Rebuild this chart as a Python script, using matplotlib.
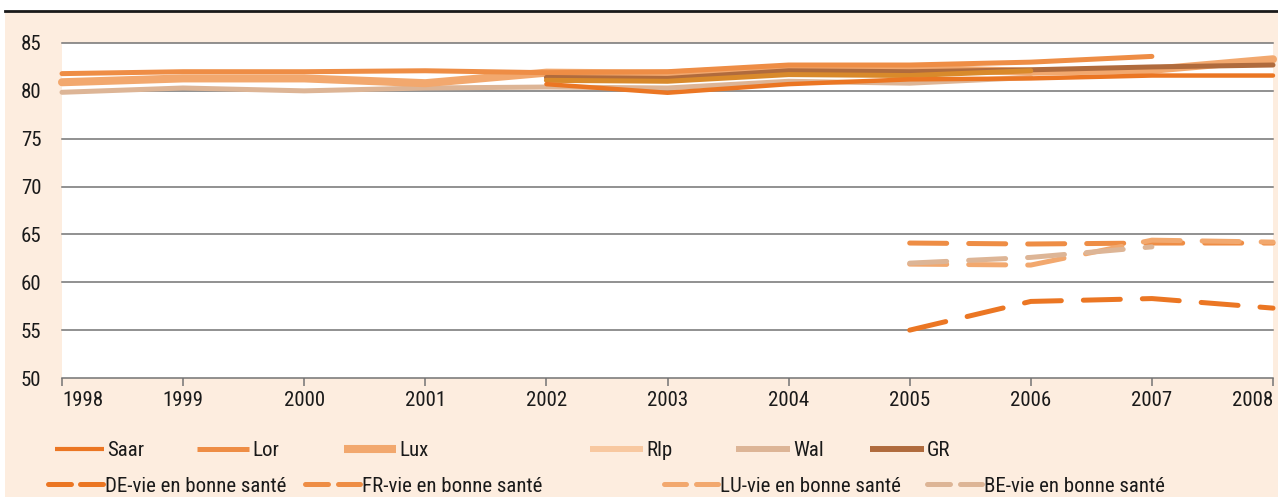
import numpy as np
import matplotlib
matplotlib.use('Agg')
import matplotlib.pyplot as plt
from matplotlib.lines import Line2D
from matplotlib.patches import Rectangle

plt.rcParams['font.family'] = ['Roboto Condensed', 'DejaVu Sans']

nan = np.nan
years = [1998, 1999, 2000, 2001, 2002, 2003, 2004, 2005, 2006, 2007, 2008]

# espérance de vie à la naissance
saar = [nan, nan, nan, nan, 80.7, 79.8, 80.7, 81.2, 81.3, 81.6, 81.6]
lor = [81.8, 82.0, 82.0, 82.1, 81.9, 82.0, 82.7, 82.7, 83.0, 83.6, nan]
lux = [80.9, 81.3, 81.3, 80.8, 81.9, 81.8, 82.4, 82.3, 82.0, 82.2, 83.3]
rlp = [nan, nan, nan, nan, 81.1, 81.0, 81.7, 81.6, 82.1, nan, nan]
wal = [79.85, 80.3, 80.0, 80.3, 80.4, 80.3, 81.0, 80.8, 81.4, nan, nan]
gr = [nan, nan, nan, nan, 81.4, 81.3, 82.1, 82.0, 82.2, 82.5, 82.7]

# espérance de vie en bonne santé
de_bs = [nan, nan, nan, nan, nan, nan, nan, 55.0, 58.0, 58.3, 57.3]
fr_bs = [nan, nan, nan, nan, nan, nan, nan, 64.1, 64.0, 64.1, 64.1]
lu_bs = [nan, nan, nan, nan, nan, nan, nan, 61.9, 61.8, 64.4, 64.2]
be_bs = [nan, nan, nan, nan, nan, nan, nan, 62.0, 62.6, 63.7, nan]

yticks = [50, 55, 60, 65, 70, 75, 80, 85]

C_SAAR = '#EB7623'
C_LOR = '#EE8D45'
C_LUX = '#F2A86E'
C_RLP = '#F8C8A0'
C_RLP_LINE = '#D98A2B'
C_WAL = '#DDB596'
C_GR = '#B06B3D'
BG = '#FDEDDF'
TXT = '#1a1a1a'

W, H = 1278, 497
fig = plt.figure(figsize=(W / 100, H / 100), dpi=100, facecolor='white')


def fx(px):
    return px / W


def fy(py):
    return 1 - py / H


# fond beige + filet noir en haut
fig.add_artist(Rectangle((fx(5), 0), 1 - fx(5), fy(12), transform=fig.transFigure,
                         facecolor=BG, edgecolor='none', zorder=0))
fig.add_artist(Line2D([fx(5), 1], [fy(11), fy(11)], transform=fig.transFigure,
                      color=TXT, lw=2, zorder=1))

ax = fig.add_axes([fx(62), fy(378), fx(1273 - 62), (378 - 43) / H])
ax.set_facecolor('white')
ax.set_xlim(1998, 2008)
ax.set_ylim(50, 85)

grid_c = '#737373'
for v in yticks[1:]:
    ax.axhline(v, color=grid_c, lw=1.1, zorder=1, clip_on=False)
for s in ['left', 'right', 'top']:
    ax.spines[s].set_visible(False)
ax.spines['bottom'].set_color(grid_c)
ax.spines['bottom'].set_linewidth(1.1)

ax.set_yticks(yticks)
ax.set_yticklabels([str(v) for v in yticks])
ax.set_xticks(years)
ax.set_xticklabels([str(y) for y in years])
ax.tick_params(axis='y', length=0, pad=15, labelsize=15, labelcolor=TXT)
ax.tick_params(axis='x', direction='out', length=6, width=1.1, color=grid_c,
               pad=3, labelsize=15, labelcolor=TXT)
xl = ax.get_xticklabels()
xl[0].set_ha('left')
xl[-1].set_ha('right')

solid = [
    ('Wal', wal, C_WAL, 3.6),
    ('Lux', lux, C_LUX, 5.8),
    ('Lor', lor, C_LOR, 3.6),
    ('GR', gr, C_GR, 3.6),
    ('Rlp', rlp, C_RLP_LINE, 3.6),
    ('Saar', saar, C_SAAR, 3.2),
]
for name, vals, c, lw in solid:
    ax.plot(years, vals, color=c, lw=lw, solid_capstyle='round',
            solid_joinstyle='round', clip_on=False, zorder=3)

dashed = [
    ('DE', de_bs, C_SAAR),
    ('FR', fr_bs, C_LOR),
    ('LU', lu_bs, C_LUX),
    ('BE', be_bs, C_WAL),
]
for name, vals, c in dashed:
    ax.plot(years, vals, color=c, lw=3.6, dashes=(7.4, 4.4), dash_capstyle='round',
            clip_on=False, zorder=3)

# légende (placée à la main, espacement irrégulier)
leg_row1 = [
    ('Saar', C_SAAR, 3.0, 55, 104),
    ('Lor', C_LOR, 3.6, 197, 249),
    ('Lux', C_LUX, 5.8, 344, 396),
    ('Rlp', C_RLP, 4.3, 590, 643),
    ('Wal', C_WAL, 4.3, 736, 790),
    ('GR', C_GR, 4.3, 870, 924),
]
for label, c, lw, x0, x1 in leg_row1:
    fig.add_artist(Line2D([fx(x0), fx(x1)], [fy(449), fy(449)], transform=fig.transFigure,
                          color=c, lw=lw, solid_capstyle='butt'))
    fig.text(fx(x1 + 3), fy(449), label, fontsize=15, color=TXT,
             ha='left', va='center_baseline')

leg_row2 = [
    ('DE-vie en bonne santé', C_SAAR, 48, 103),
    ('FR-vie en bonne santé', C_LOR, 305, 360),
    ('LU-vie en bonne santé', C_LUX, 664, 718),
    ('BE-vie en bonne santé', C_WAL, 927, 982),
]
for label, c, x0, x1 in leg_row2:
    seg = (x1 - x0 - 10) / 2
    for a, b in [(x0, x0 + seg), (x1 - seg, x1)]:
        fig.add_artist(Line2D([fx(a), fx(b)], [fy(484), fy(484)], transform=fig.transFigure,
                              color=c, lw=3.6, solid_capstyle='round'))
    fig.text(fx(x1 + 2), fy(484), label, fontsize=15, color=TXT,
             ha='left', va='center_baseline')

fig.savefig('out.png', dpi=100, facecolor=fig.get_facecolor())
